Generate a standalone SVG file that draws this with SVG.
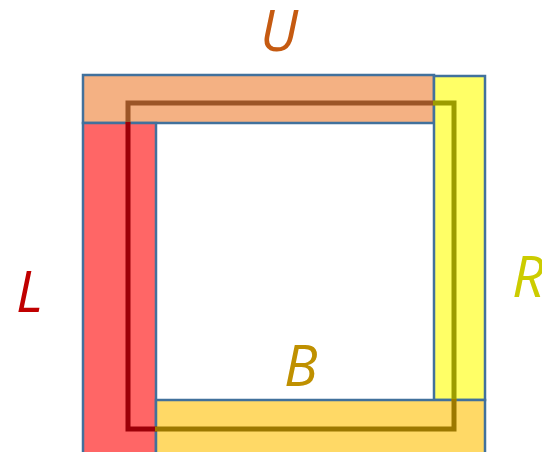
<svg xmlns="http://www.w3.org/2000/svg" width="542" height="452" viewBox="0 0 542 452">
<style>
.strip{stroke:#41719c;stroke-width:2.5}
.lbl{font-family:"Open Sans","DejaVu Sans",sans-serif;font-style:italic;font-size:56px}
.ln{fill:none;stroke-width:5}
</style>
<defs>
<clipPath id="cU"><rect x="82" y="74" width="353" height="50"/></clipPath>
<clipPath id="cR"><rect x="433" y="75" width="53" height="326"/></clipPath>
<clipPath id="cL"><rect x="82" y="122" width="75" height="332"/></clipPath>
<clipPath id="cB"><rect x="155" y="399" width="331" height="55"/></clipPath>
<rect id="sq" x="128" y="103" width="326" height="326"/>
</defs>
<rect width="542" height="452" fill="#ffffff"/>
<g id="U"><rect class="strip" x="83" y="75" width="351" height="48" fill="#f4b183"/></g>
<g id="R"><rect class="strip" x="434" y="76" width="51" height="324" fill="#ffff66"/></g>
<g id="L"><rect class="strip" x="83" y="123" width="73" height="332" fill="#ff6666"/></g>
<g id="B"><rect class="strip" x="156" y="400" width="329" height="55" fill="#ffd966"/></g>
<g id="connectors">
<use href="#sq" class="ln" stroke="#9b5527" clip-path="url(#cU)"/>
<use href="#sq" class="ln" stroke="#9c9c00" clip-path="url(#cR)"/>
<use href="#sq" class="ln" stroke="#9c0008" clip-path="url(#cL)"/>
<use href="#sq" class="ln" stroke="#9c7800" clip-path="url(#cB)"/>
</g>
<g id="labels">
<text class="lbl" x="260" y="51" fill="#c55a11">U</text>
<text class="lbl" x="16" y="312" fill="#c00000">L</text>
<text class="lbl" x="512" y="297" fill="#cccc00">R</text>
<text class="lbl" x="284" y="386" fill="#bf9000">B</text>
</g>
</svg>
